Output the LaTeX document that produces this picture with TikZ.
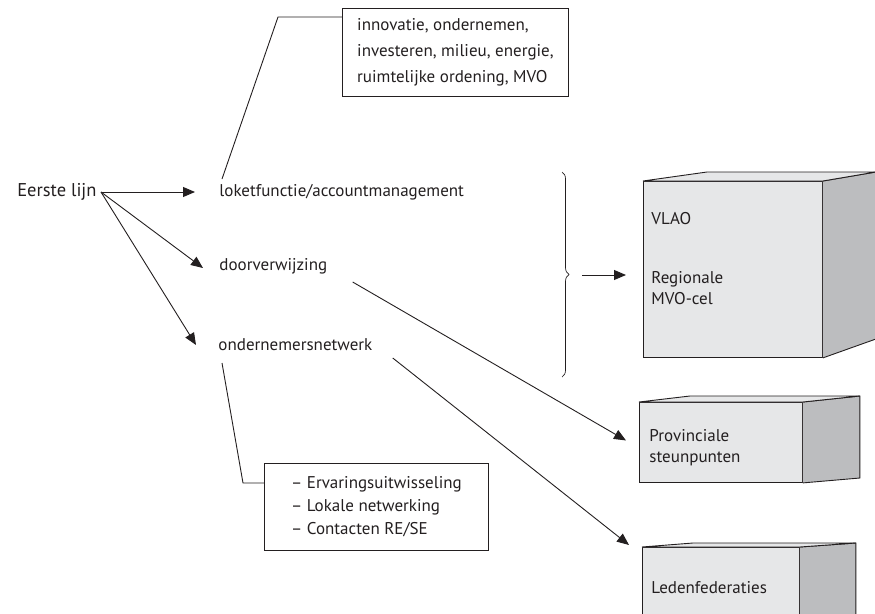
\documentclass[tikz,border=0pt]{standalone}
\usepackage{fontspec}
\setmainfont{PT Sans}
\usetikzlibrary{arrows.meta,decorations.pathreplacing}

\definecolor{frontgray}{HTML}{E6E7E8}
\definecolor{sidegray}{HTML}{BCBDBF}
\definecolor{inkgray}{HTML}{231F20}

\begin{document}
\begin{tikzpicture}[x=1pt,y=-1pt,line width=0.9pt,draw=inkgray,
  lbl/.style={anchor=west,inner sep=0pt,text=inkgray,font=\fontsize{17}{21}\selectfont},
  infobox/.style={draw,anchor=north west,align=left,text=inkgray,
    font=\fontsize{17}{26}\selectfont},
  facebox/.style={draw,fill=frontgray,anchor=north west,inner sep=0pt},
  arr/.style={-{Triangle[length=12pt,width=10pt]}}]
\clip (0,0) rectangle (875,613);

% Left column
\node[lbl,anchor=east,font=\fontsize{18.5}{22}\selectfont] (eerste) at (97,192) {Eerste lijn};
\node[lbl] (loket) at (219,192) {loketfunctie/accountmanagement};
\node[lbl] (door) at (219,266) {doorverwijzing};
\node[lbl] (onder) at (218,345) {ondernemersnetwerk};
\coordinate (split) at ([xshift=4pt]eerste.east);

\draw[arr] (split) -- ([xshift=-24pt]loket.west);
\draw[arr] (split) -- ([shift={(-16,2)}]door.west);
\draw[arr] (split) -- ([shift={(-22,0)}]onder.west);

% Info boxes
\node[infobox,minimum width=226,minimum height=88] (topics) at (342,8)
  {innovatie, ondernemen,\\investeren, milieu, energie,\\ruimtelijke ordening, MVO};
\node[infobox,minimum width=224,minimum height=87,font=\fontsize{17}{23}\selectfont] (netwerk) at (264,463)
  {-- Ervaringsuitwisseling\\-- Lokale netwerking\\-- Contacten RE/SE};

\coordinate (topbend) at (278,17);
\coordinate (lowbend) at (243,483);
\draw ([shift={(3,-13)}]loket.west) -- (topbend) -- (topbend -| topics.west);
\draw ([shift={(4,18)}]onder.west) -- (lowbend) -- (lowbend -| netwerk.west);

% Brace
\draw[line width=0.7pt,decorate,decoration={brace,amplitude=7pt}] (562,172) -- (562,377);
\coordinate (bracetip) at (569,275);

% Cubes
\node[facebox,minimum width=179,minimum height=176] (cube1) at (643,181) {};
\fill[sidegray] (cube1.north east) -- ++(53,-9) -- ++(0,167) -- (cube1.south east) -- cycle;
\draw (cube1.north east) -- ++(53,-9) -- ++(0,167) -- (cube1.south east);
\draw[fill=frontgray] (cube1.north west) -- ++(64,-9) -- ([shift={(53,-9)}]cube1.north east) -- (cube1.north east) -- cycle;
\node[lbl] (vlao) at (651,219) {VLAO};
\node[lbl,align=left] (mvocel) at (651,288) {Regionale\\MVO-cel};

\node[facebox,minimum width=163,minimum height=80] (cube2) at (639,402) {};
\fill[sidegray] (cube2.north east) -- ++(57,-6) -- ++(0,82) -- (cube2.south east) -- cycle;
\draw (cube2.north east) -- ++(57,-6) -- ++(0,82) -- (cube2.south east);
\draw[fill=frontgray] (cube2.north west) -- ++(51,-6) -- ([shift={(57,-6)}]cube2.north east) -- (cube2.north east) -- cycle;
\node[lbl,align=left] (prov) at (649,448) {Provinciale\\steunpunten};

\node[facebox,minimum width=157,minimum height=80] (cube3) at (642,547) {};
\fill[sidegray] (cube3.north east) -- ++(56,-4) -- ++(0,82) -- (cube3.south east) -- cycle;
\draw (cube3.north east) -- ++(56,-4) -- ++(0,82) -- (cube3.south east);
\draw[fill=frontgray] (cube3.north west) -- ++(51,-4) -- ([shift={(56,-4)}]cube3.north east) -- (cube3.north east) -- cycle;
\node[lbl] (leden) at (651,588) {Ledenfederaties};

% Connections to the cubes
\draw[arr] ([xshift=13pt]bracetip) -- ([xshift=-17pt]bracetip -| cube1.west);
\draw[arr] ([shift={(25,16)}]door.east) -- ([shift={(-13,-2)}]cube2.west);
\draw[arr] ([shift={(20,13)}]onder.east) -- ([shift={(-13,-2)}]cube3.north west);
\end{tikzpicture}
\end{document}
